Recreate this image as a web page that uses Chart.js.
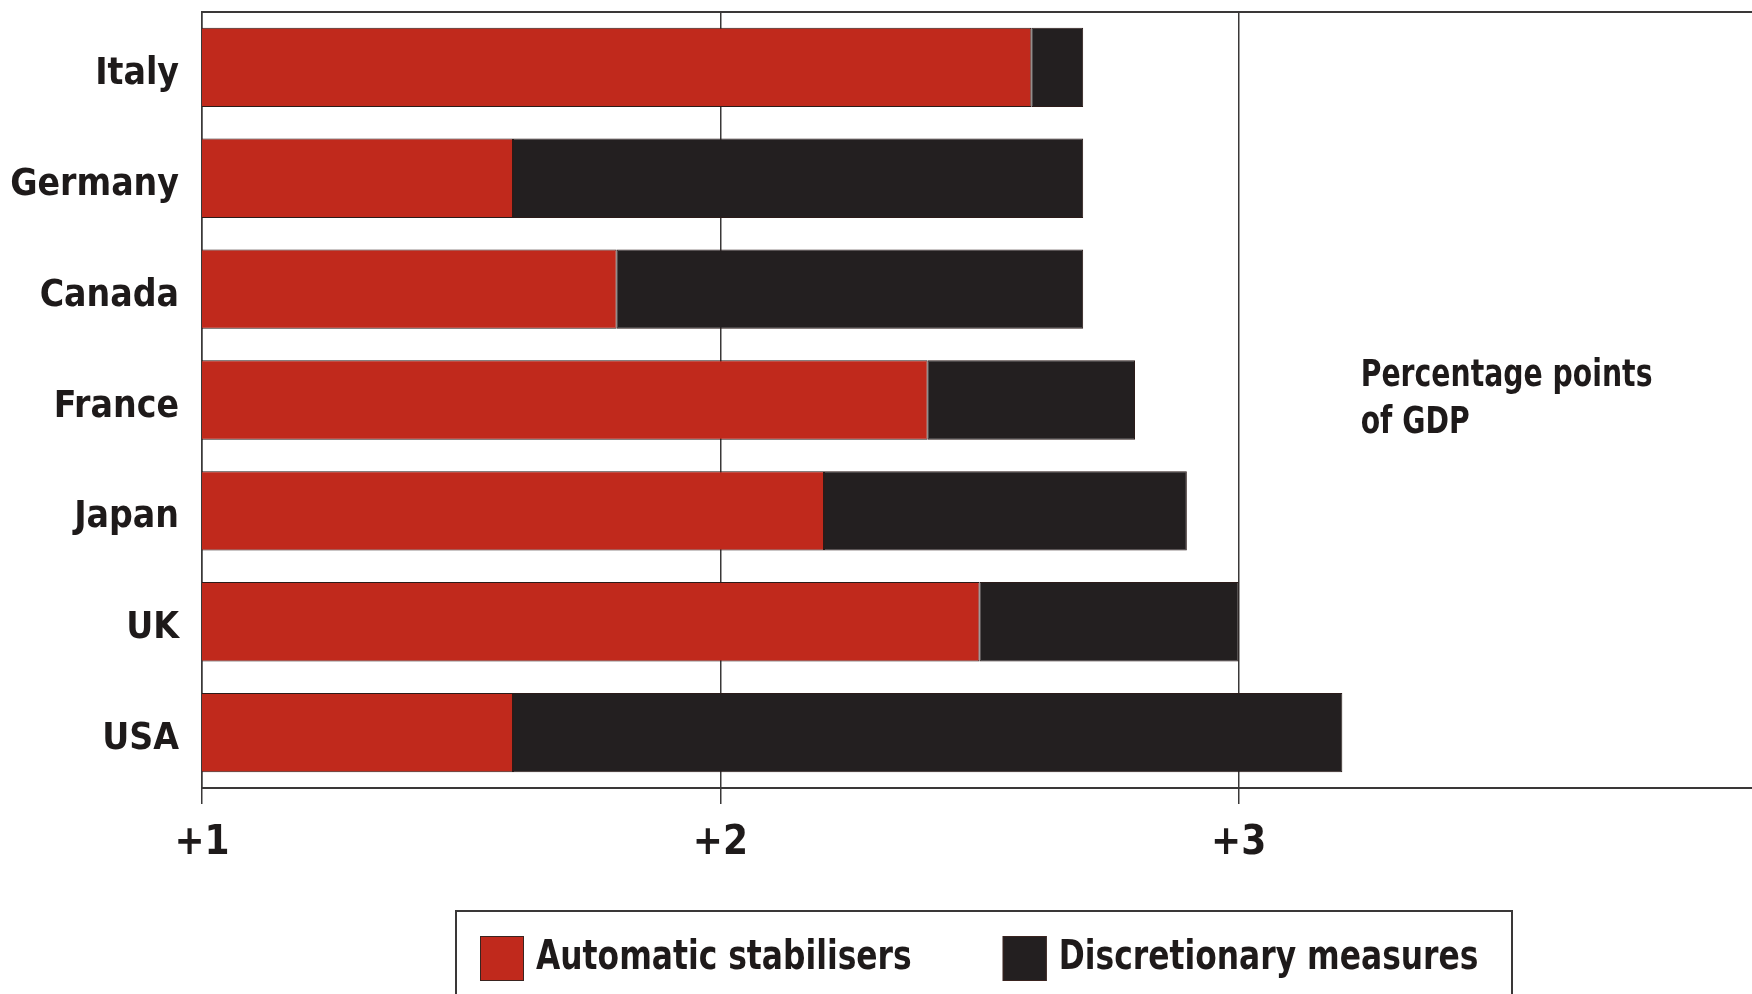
<!DOCTYPE html>
<html>
<head>
<meta charset="utf-8">
<title>Fiscal stimulus by country</title>
<script src="https://cdn.jsdelivr.net/npm/chart.js@4/dist/chart.umd.min.js"></script>
<style>
  html, body { margin: 0; padding: 0; background: #ffffff; overflow: hidden; }
  #wrap { width: 1760px; height: 994px; }
</style>
</head>
<body>
<div id="wrap"><canvas id="chart" width="1760" height="994"></canvas></div>
<script>
// Countries, top to bottom
const countries = ['Italy', 'Germany', 'Canada', 'France', 'Japan', 'UK', 'USA'];
// Percentage points of GDP
const automaticStabilisers = [2.6, 1.6, 1.8, 2.4, 2.2, 2.5, 1.6];
const discretionaryMeasures = [0.1, 1.1, 0.9, 0.4, 0.7, 0.5, 1.6];
// Axis tick labels
const tickLabels = { 1: '+1', 2: '+2', 3: '+3' };
const seriesNames = ['Automatic stabilisers', 'Discretionary measures'];
const noteLines = ['Percentage points', 'of GDP'];

const RED = '#c0291c';
const BLACK = '#231f20';
const INK = '#1e1a1a';
const LINE = '#3a3838';
const FONT = '"DejaVu Sans Condensed", "Liberation Sans Narrow", sans-serif';
const SQUEEZE = 0.85; // horizontal squeeze for the note and legend lettering

// Draw text narrowed horizontally, anchored at its left edge
function squeezedText(ctx, text, x, y) {
  ctx.save();
  ctx.translate(x, y);
  ctx.scale(SQUEEZE, 1);
  ctx.fillText(text, 0, 0);
  ctx.restore();
  return ctx.measureText(text).width * SQUEEZE;
}

// Top frame line, note text and the boxed legend
const decorations = {
  id: 'decorations',
  beforeDatasetsDraw(chart) {
    const { ctx, chartArea } = chart;
    ctx.save();
    ctx.strokeStyle = LINE;
    ctx.lineWidth = 2;
    ctx.beginPath();
    ctx.moveTo(chartArea.left, chartArea.top);
    ctx.lineTo(chartArea.right, chartArea.top);
    ctx.stroke();
    ctx.restore();
  },
  afterDraw(chart) {
    const { ctx, chartArea } = chart;
    ctx.save();
    // note
    ctx.fillStyle = INK;
    ctx.font = 'bold 37px ' + FONT;
    ctx.textAlign = 'left';
    ctx.textBaseline = 'middle';
    const nx = chart.scales.x.getPixelForValue(3) + 122;
    squeezedText(ctx, noteLines[0], nx, 376);
    squeezedText(ctx, noteLines[1], nx, 423);

    // legend
    const boxLeft = chartArea.left + 254;
    const boxRight = chartArea.left + 1310;
    const boxTop = 911;
    ctx.strokeStyle = LINE;
    ctx.lineWidth = 2;
    ctx.strokeRect(boxLeft, boxTop, boxRight - boxLeft, 200);

    ctx.font = 'bold 41px ' + FONT;
    ctx.textBaseline = 'middle';
    let x = boxLeft + 24;
    const cy = 958;
    chart.data.datasets.forEach((ds) => {
      ctx.fillStyle = ds.backgroundColor;
      ctx.fillRect(x, cy - 22, 44, 45);
      ctx.strokeStyle = '#3a2420';
      ctx.lineWidth = 1;
      ctx.strokeRect(x + 0.5, cy - 21.5, 43, 44);
      ctx.fillStyle = INK;
      const w = squeezedText(ctx, ds.label, x + 56, cy);
      x += 56 + w + 91;
    });
    ctx.restore();
  }
};

new Chart(document.getElementById('chart'), {
  type: 'bar',
  data: {
    labels: countries,
    datasets: [
      {
        label: seriesNames[0],
        data: automaticStabilisers,
        backgroundColor: RED,
        borderColor: '#2b1b19',
        borderWidth: 1,
        borderSkipped: 'start'
      },
      {
        label: seriesNames[1],
        data: discretionaryMeasures,
        backgroundColor: BLACK,
        borderColor: '#2b1b19',
        borderWidth: 1,
        borderSkipped: false
      }
    ]
  },
  options: {
    indexAxis: 'y',
    responsive: false,
    animation: false,
    devicePixelRatio: 1,
    layout: { padding: { top: 12, right: 3, left: 0, bottom: 0 } },
    datasets: { bar: { barPercentage: 0.716, categoryPercentage: 1.0 } },
    plugins: {
      legend: { display: false },
      tooltip: { enabled: false },
      title: { display: false }
    },
    scales: {
      x: {
        stacked: true,
        min: 1,
        max: 4,
        afterFit(scale) {
          scale.height = 206;
          scale.paddingLeft = 0;
          scale.paddingRight = 0;
        },
        ticks: {
          stepSize: 1,
          padding: 16,
          color: INK,
          font: { family: FONT, size: 40, weight: 'bold' },
          maxRotation: 0,
          callback: (v) => tickLabels[v] || ''
        },
        grid: {
          color: (c) => (c.tick && c.tick.value === 4 ? 'rgba(0,0,0,0)' : LINE),
          lineWidth: 1.5,
          drawTicks: true,
          tickLength: 16
        },
        border: { display: true, color: LINE, width: 2 }
      },
      y: {
        stacked: true,
        afterFit(scale) {
          scale.width = 202;
          scale.paddingTop = 0;
          scale.paddingBottom = 0;
        },
        ticks: {
          padding: 23,
          labelOffset: 7,
          color: INK,
          font: { family: FONT, size: 37, weight: 'bold' }
        },
        grid: { display: false, drawTicks: false },
        border: { display: true, color: LINE, width: 1.5 }
      }
    }
  },
  plugins: [decorations]
});
</script>
</body>
</html>
